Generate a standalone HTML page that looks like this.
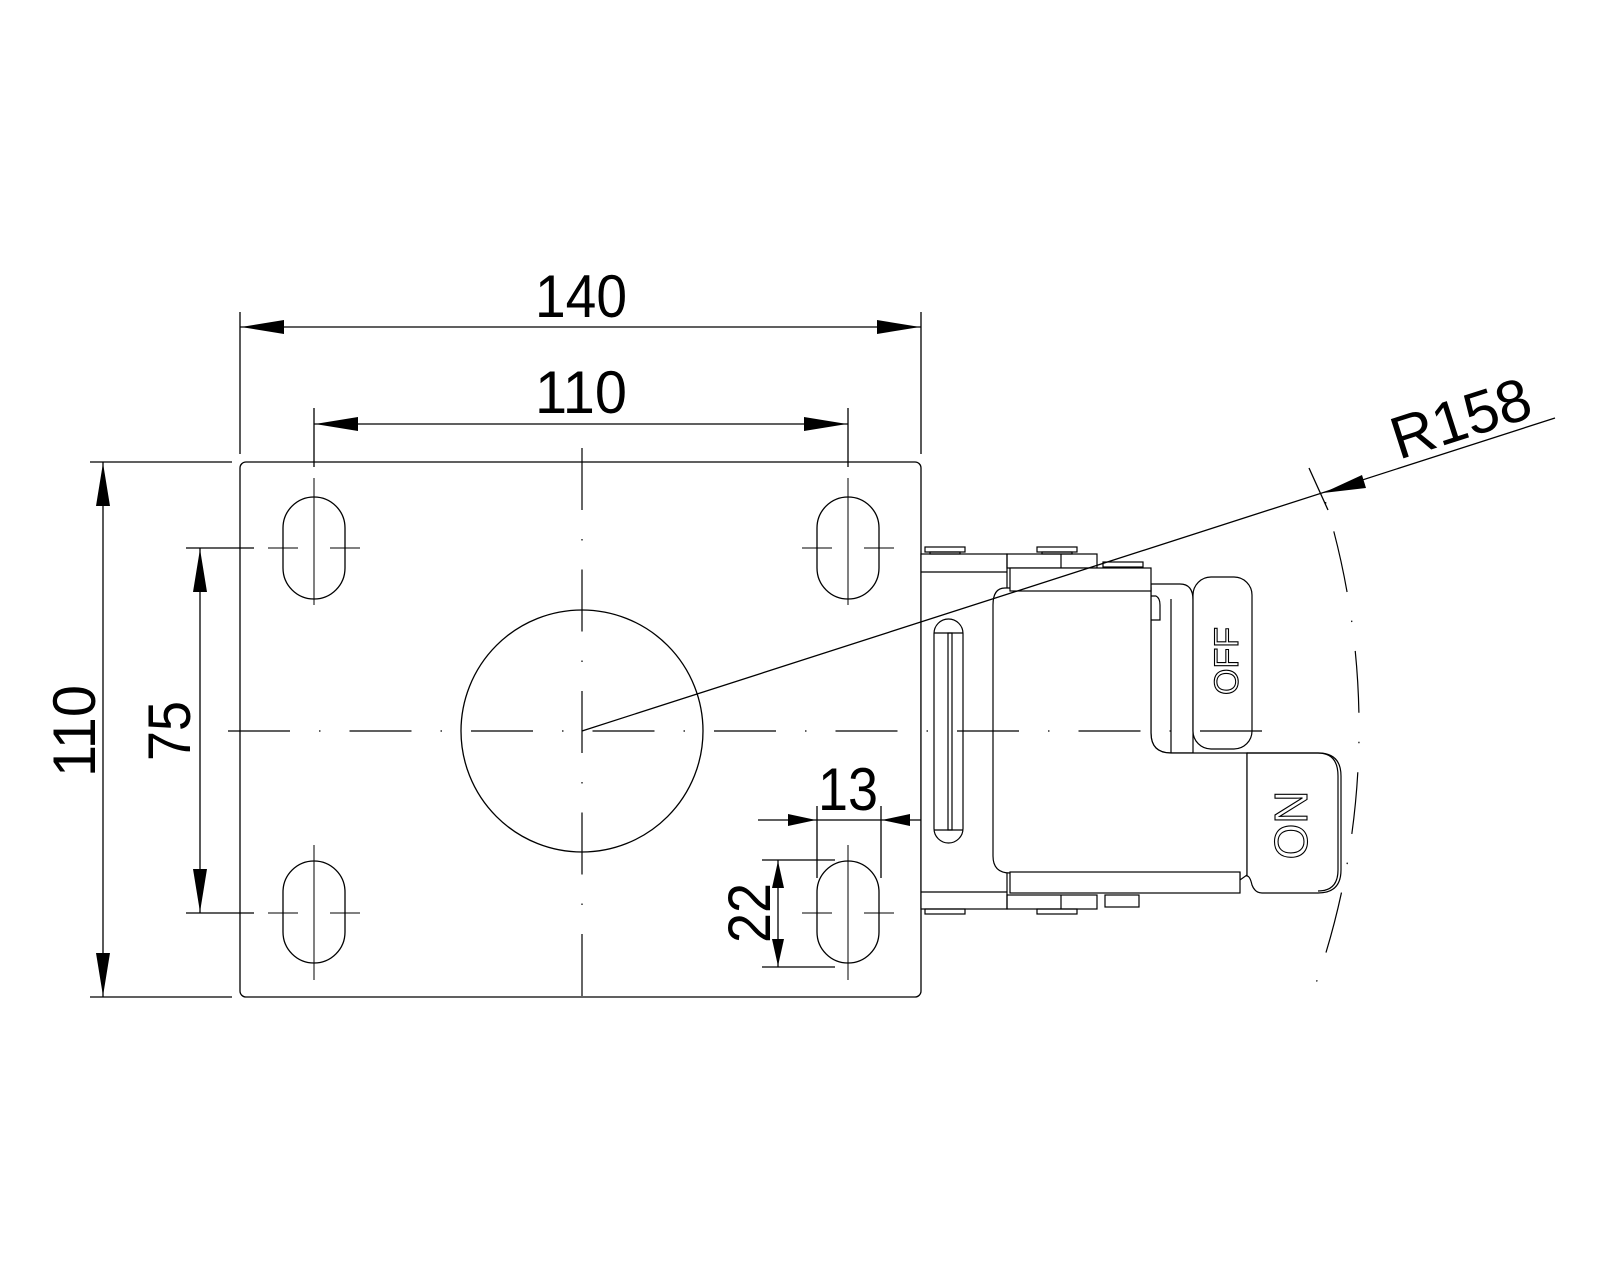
<!DOCTYPE html>
<html><head><meta charset="utf-8"><style>
html,body{margin:0;padding:0;background:#fff}
svg{display:block}
text{font-family:"Liberation Sans",sans-serif;fill:#000}
</style></head><body>
<svg width="1600" height="1280" viewBox="0 0 1600 1280" xmlns="http://www.w3.org/2000/svg">
<defs>
<style>
.l{stroke:#000;stroke-width:1.3;fill:none}
.c{stroke:#000;stroke-width:1.2;fill:none;stroke-dasharray:62 29 1.5 29}
.a{fill:#000;stroke:none}
</style>
</defs>

<rect class="l" x="240" y="462" width="681" height="535" rx="6"/>
<circle class="l" cx="582" cy="731" r="121"/>
<line class="c" x1="582" y1="448" x2="582" y2="1014"/>

<g>
<rect class="l" x="283" y="497" width="62" height="102" rx="31"/>
<rect class="l" x="817" y="497" width="62" height="102" rx="31"/>
<rect class="l" x="283" y="861" width="62" height="102" rx="31"/>
<rect class="l" x="817" y="861" width="62" height="102" rx="31"/>
</g>
<g class="l" style="stroke-width:1">
<line x1="314" y1="478" x2="314" y2="605"/><line x1="268" y1="548" x2="298" y2="548"/><line x1="330" y1="548" x2="360" y2="548"/>
<line x1="848" y1="478" x2="848" y2="605"/><line x1="802" y1="548" x2="832" y2="548"/><line x1="864" y1="548" x2="894" y2="548"/>
<line x1="314" y1="845" x2="314" y2="980"/><line x1="268" y1="913" x2="298" y2="913"/><line x1="330" y1="913" x2="360" y2="913"/>
<line x1="848" y1="845" x2="848" y2="980"/><line x1="802" y1="913" x2="832" y2="913"/><line x1="864" y1="913" x2="894" y2="913"/>
</g>

<g>
<line class="l" x1="240" y1="312" x2="240" y2="454"/>
<line class="l" x1="921" y1="312" x2="921" y2="454"/>
<line class="l" x1="240" y1="327" x2="921" y2="327"/>
<polygon class="a" points="241,327 284,320 284,334"/>
<polygon class="a" points="920,327 877,320 877,334"/>
<text x="581" y="317" font-size="60" text-anchor="middle" textLength="92" lengthAdjust="spacingAndGlyphs">140</text>
</g>
<g>
<line class="l" x1="314" y1="408" x2="314" y2="467"/>
<line class="l" x1="848" y1="408" x2="848" y2="467"/>
<line class="l" x1="314" y1="424" x2="848" y2="424"/>
<polygon class="a" points="315,424 358,417 358,431"/>
<polygon class="a" points="847,424 804,417 804,431"/>
<text x="581" y="413" font-size="60" text-anchor="middle" textLength="92" lengthAdjust="spacingAndGlyphs">110</text>
</g>
<g>
<line class="l" x1="90" y1="462" x2="232" y2="462"/>
<line class="l" x1="90" y1="997" x2="232" y2="997"/>
<line class="l" x1="103" y1="462" x2="103" y2="997"/>
<polygon class="a" points="103,463 96,506 110,506"/>
<polygon class="a" points="103,996 96,953 110,953"/>
<text transform="translate(95,731) rotate(-90)" font-size="60" text-anchor="middle" textLength="92" lengthAdjust="spacingAndGlyphs">110</text>
</g>
<g>
<line class="l" x1="186" y1="548" x2="254" y2="548"/>
<line class="l" x1="186" y1="913" x2="254" y2="913"/>
<line class="l" x1="200" y1="548" x2="200" y2="913"/>
<polygon class="a" points="200,549 193,592 207,592"/>
<polygon class="a" points="200,912 193,869 207,869"/>
<text transform="translate(190,731) rotate(-90)" font-size="60" text-anchor="middle" textLength="60" lengthAdjust="spacingAndGlyphs">75</text>
</g>
<g>
<line class="l" x1="762" y1="860" x2="835" y2="860"/>
<line class="l" x1="762" y1="967" x2="835" y2="967"/>
<line class="l" x1="778" y1="860" x2="778" y2="967"/>
<polygon class="a" points="778,861 772,888 784,888"/>
<polygon class="a" points="778,966 772,939 784,939"/>
<text transform="translate(770,913) rotate(-90)" font-size="60" text-anchor="middle" textLength="60" lengthAdjust="spacingAndGlyphs">22</text>
</g>
<g>
<line class="l" x1="817" y1="806" x2="817" y2="878"/>
<line class="l" x1="881" y1="806" x2="881" y2="878"/>
<line class="l" x1="758" y1="820" x2="955" y2="820"/>
<polygon class="a" points="816,820 788,814 788,826"/>
<polygon class="a" points="882,820 910,814 910,826"/>
<text x="848" y="810" font-size="60" text-anchor="middle" textLength="60" lengthAdjust="spacingAndGlyphs">13</text>
</g>

<line class="l" x1="1309" y1="468" x2="1328" y2="510"/>
<polygon class="a" points="1323,493 1362,475 1366,488"/>
<text transform="translate(1467,438) rotate(-17.8)" font-size="60" text-anchor="middle">R158</text>
<path class="c" d="M 1322.7 493 A 778 778 0 0 1 1310 1000" stroke-dashoffset="-40"/>

<g class="l" style="stroke-width:1.2">
<rect x="921" y="554" width="86" height="355" fill="#fff"/>
<line x1="921" y1="572" x2="1007" y2="572"/>
<line x1="921" y1="892" x2="1007" y2="892"/>
<rect x="1007" y="554" width="90" height="14"/>
<line x1="1061" y1="554" x2="1061" y2="568"/>
<rect x="1007" y="895" width="90" height="14"/>
<line x1="1061" y1="895" x2="1061" y2="909"/>
<rect x="925" y="547" width="40" height="5"/><rect x="930" y="552" width="30" height="2"/>
<rect x="1037" y="547" width="40" height="5"/><rect x="1042" y="552" width="30" height="2"/>
<rect x="1103" y="562" width="40" height="5"/>
<rect x="1105" y="895" width="34" height="12"/>
<rect x="925" y="909" width="40" height="5"/>
<rect x="1037" y="909" width="40" height="5"/>
<rect x="934" y="619" width="29" height="224" rx="14.5"/>
<rect x="948" y="633" width="4" height="197"/>
<line x1="934" y1="633" x2="963" y2="633"/><line x1="934" y1="830" x2="963" y2="830"/>
<path d="M1151 584 L1180 584 Q1193 584 1193 600 L1193 753 L1171 753 Q1151 753 1151 733 Z" fill="#fff"/>
<line x1="1171" y1="599" x2="1171" y2="753"/>
<path d="M1151 596 L1156 596 Q1160 598 1160 605 L1160 620 L1151 620"/>
<path d="M1005 588 L1151 588 L1151 733 Q1151 753 1171 753 L1247 753 L1247 875 L1240 880 L1240 873 L1010 873 Q993 873 993 856 L993 605 Q993 588 1005 588 Z" fill="#fff"/>
<rect x="1010" y="568" width="141" height="23" fill="#fff"/>
<rect x="1010" y="872" width="230" height="21" fill="#fff"/>
<rect x="1193" y="577" width="59" height="172" rx="18" fill="#fff"/>
<path d="M1247 753 L1318 753 Q1341 753 1341 776 L1341 870 Q1341 893 1318 893 L1262 893 Q1255 893 1252 885 Q1250 876 1247 876 Z" fill="#fff"/>
<path d="M1247 753 L1318 753 Q1338 753 1338 776 L1338 870 Q1338 891 1318 891"/>
</g>
<text transform="translate(1238,661) rotate(-90)" font-size="34" text-anchor="middle" style="fill:none;stroke:#000;stroke-width:1.1">OFF</text>
<text transform="translate(1307,825) rotate(-90)" font-size="46" text-anchor="middle" style="fill:none;stroke:#000;stroke-width:1.1">ON</text>

<!-- lines drawn over mechanism -->
<line class="c" x1="226" y1="731" x2="1268" y2="731" stroke-dashoffset="-2"/>
<line class="l" x1="582" y1="731" x2="1555" y2="418"/>
</svg>
</body></html>
